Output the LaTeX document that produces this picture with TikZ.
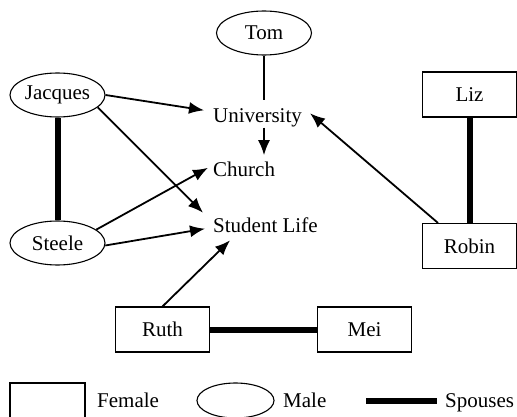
\documentclass[tikz,border=0pt]{standalone}
\usepackage{fontspec}
\setmainfont{Liberation Serif}
\usetikzlibrary{arrows.meta,shapes.geometric}
\begin{document}
\begin{tikzpicture}[x=1pt,y=-1pt,
  every node/.style={font=\fontsize{21}{25}\selectfont},
  male/.style={draw,ellipse,line width=1.1pt,minimum width=95pt,minimum height=44pt,inner sep=0pt},
  female/.style={draw,rectangle,line width=1.1pt,minimum width=94pt,minimum height=45pt,inner sep=0pt},
  place/.style={inner sep=0pt,anchor=base west},
  arr/.style={line width=1.8pt,-{Latex[length=15pt,width=12pt]}},
  link/.style={line width=1.8pt},
  spouse/.style={line width=6pt}]
\useasboundingbox (0,0) rectangle (517,417);
% people
\node[male] (Tom) at (264,33) {Tom};
\node[male] (Jacques) at (57.5,95) {Jacques};
\node[male] (Steele) at (57.5,243) {Steele};
\node[female] (Liz) at (469.5,94.5) {Liz};
\node[female] (Robin) at (469.5,246) {Robin};
\node[female] (Ruth) at (162.5,329.5) {Ruth};
\node[female] (Mei) at (364.5,329.5) {Mei};
% places
\node[place] (U) at (213,123) {University};
\node[place] (C) at (213,177) {Church};
\node[place] (S) at (213,232) {Student Life};
% spouses
\draw[spouse] (Jacques) -- (Steele);
\draw[spouse] (Liz) -- (Robin);
\draw[spouse] (Ruth) -- (Mei);
% links
\draw[link] (Tom.south) -- ([yshift=9pt]U.north -| Tom.south);
\draw[arr] (U.south -| Tom.south) -- ([yshift=7pt]C.north -| Tom.south);
\draw[arr] (Jacques.east) -- ([xshift=-9pt,yshift=8pt]U.west);
\draw[arr] (Jacques.-17) -- ([xshift=-10pt,yshift=12pt]S.west);
\draw[arr] (Steele.19) -- ([xshift=-5pt,yshift=2pt]C.west);
\draw[arr] (Steele.-3) -- ([xshift=-8pt,yshift=-4pt]S.west);
\draw[arr] (Ruth.north) -- ([xshift=17pt,yshift=-8pt]S.south west);
\draw[arr] ([xshift=-31.5pt]Robin.north) -- ([xshift=8pt,yshift=5pt]U.east);
% legend
\node[draw,rectangle,line width=1.1pt,minimum width=75pt,minimum height=44pt,inner sep=0pt] (LF) at (47.5,405) {};
\node[place] (LFt) at (97,407) {Female};
\node[draw,ellipse,line width=1.1pt,minimum width=77pt,minimum height=35pt,inner sep=0pt] (LM) at (235.5,400.5) {};
\node[place] (LMt) at (283,407) {Male};
\coordinate (LS1) at (366,401);
\node[place] (LSt) at (445,407) {Spouses};
\draw[spouse] (LS1) -- ([xshift=-8pt]LSt.west |- LS1);
\end{tikzpicture}
\end{document}
